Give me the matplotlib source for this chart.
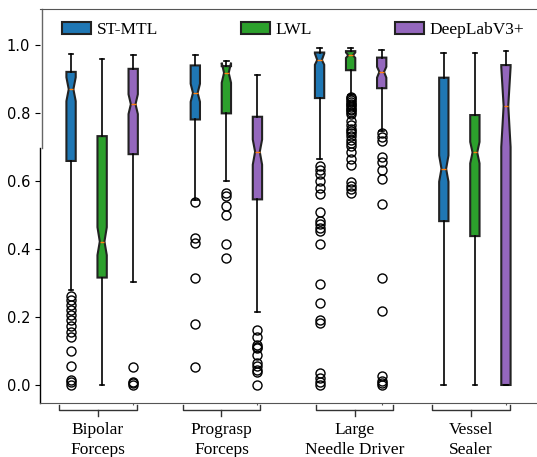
import matplotlib
matplotlib.use("Agg")
import matplotlib.pyplot as plt
import matplotlib.transforms as mtransforms
from matplotlib.patches import Patch
from matplotlib.lines import Line2D

# ---------------- data ----------------
instruments = ["Bipolar\nForceps", "Prograsp\nForceps", "Large\nNeedle Driver", "Vessel\nSealer"]
methods = ["ST-MTL", "LWL", "DeepLabV3+"]
colors = ["#1f77b4", "#2ca02c", "#9467bd"]

# ST-MTL
st_med = [0.870, 0.859, 0.956, 0.636]
st_q1 = [0.659, 0.781, 0.844, 0.482]
st_q3 = [0.921, 0.940, 0.978, 0.904]
st_lo = [0.279, 0.545, 0.664, 0.0]
st_hi = [0.975, 0.972, 0.990, 0.978]
st_cilo = [0.835, 0.833, 0.942, 0.598]
st_cihi = [0.905, 0.886, 0.975, 0.675]
st_fliers = [
    [0.262, 0.250, 0.235, 0.220, 0.205, 0.190, 0.174, 0.156, 0.140, 0.100, 0.056, 0.015, 0.008, 0.0],
    [0.537, 0.431, 0.419, 0.314, 0.180, 0.054],
    [0.644, 0.631, 0.620, 0.600, 0.580, 0.561, 0.509, 0.482, 0.473, 0.462, 0.453, 0.414,
     0.296, 0.242, 0.191, 0.181, 0.034, 0.022, 0.010, 0.0],
    [],
]

# LWL
lwl_med = [0.422, 0.918, 0.970, 0.684]
lwl_q1 = [0.316, 0.799, 0.926, 0.438]
lwl_q3 = [0.732, 0.938, 0.982, 0.794]
lwl_lo = [0.0, 0.600, 0.852, 0.0]
lwl_hi = [0.958, 0.953, 0.990, 0.978]
lwl_cilo = [0.382, 0.889, 0.962, 0.652]
lwl_cihi = [0.464, 0.948, 0.978, 0.715]
lwl_fliers = [
    [],
    [0.566, 0.557, 0.527, 0.499, 0.414, 0.373],
    [0.848, 0.843, 0.838, 0.833, 0.828, 0.823, 0.818, 0.813, 0.808, 0.803, 0.798,
     0.776, 0.764, 0.752, 0.747, 0.740, 0.732, 0.722, 0.713, 0.703, 0.684, 0.665,
     0.646, 0.598, 0.586, 0.576, 0.565],
    [],
]

# DeepLabV3+
dl_med = [0.826, 0.686, 0.921, 0.821]
dl_q1 = [0.679, 0.546, 0.873, 0.0]
dl_q3 = [0.930, 0.789, 0.963, 0.941]
dl_lo = [0.303, 0.215, 0.747, 0.0]
dl_hi = [0.972, 0.911, 0.985, 0.982]
dl_cilo = [0.797, 0.648, 0.904, 0.700]
dl_cihi = [0.855, 0.722, 0.936, 0.935]
dl_fliers = [
    [0.053, 0.010, 0.005, 0.0],
    [0.163, 0.142, 0.118, 0.113, 0.110, 0.087, 0.066, 0.056, 0.045, 0.037, 0.0],
    [0.742, 0.729, 0.718, 0.672, 0.656, 0.632, 0.605, 0.531, 0.316, 0.218, 0.026, 0.012, 0.005, 0.0],
    [],
]

yticks = [0.0, 0.2, 0.4, 0.6, 0.8, 1.0]
label_x = [1.86, 5.84, 10.13, 13.88]

# ---------------- figure ----------------
fig = plt.figure(figsize=(5.37, 4.57), dpi=100)
ax = fig.add_axes([40 / 537, 1 - 403 / 457, 1 - 40 / 537, 394 / 457])

all_stats = [
    (st_med, st_q1, st_q3, st_lo, st_hi, st_cilo, st_cihi, st_fliers),
    (lwl_med, lwl_q1, lwl_q3, lwl_lo, lwl_hi, lwl_cilo, lwl_cihi, lwl_fliers),
    (dl_med, dl_q1, dl_q3, dl_lo, dl_hi, dl_cilo, dl_cihi, dl_fliers),
]

for m, (med, q1, q3, lo, hi, cilo, cihi, fl) in enumerate(all_stats):
    stats = []
    for g in range(len(instruments)):
        stats.append(dict(med=med[g], q1=q1[g], q3=q3[g], whislo=lo[g], whishi=hi[g],
                          cilo=cilo[g], cihi=cihi[g], fliers=fl[g]))
    positions = [4 * g + 1 + m for g in range(len(instruments))]
    ax.bxp(stats, positions=positions, widths=0.3, shownotches=True, patch_artist=True,
           boxprops=dict(facecolor=colors[m], edgecolor="#222222", linewidth=1.5),
           medianprops=dict(color="#ff7f0e", linewidth=1.0),
           whiskerprops=dict(color="black", linewidth=1.2),
           capprops=dict(color="black", linewidth=1.2),
           flierprops=dict(marker="o", markerfacecolor="none", markeredgecolor="black",
                           markersize=6.5, markeredgewidth=1.0))

ax.set_xlim(0, 16)
ax.set_ylim(-0.053, 1.106)
ax.set_yticks(yticks)
ax.set_yticklabels([f"{v:.1f}" for v in yticks], fontsize=10.5)
ax.set_xticks([3, 7, 11, 15])
ax.set_xticklabels([])
ax.tick_params(axis="x", length=1.5, color="#555555")

ax.spines["right"].set_visible(False)
ax.spines["left"].set_visible(False)
ax.spines["top"].set_color("#555555")
ax.spines["bottom"].set_color("#555555")

# broken left spine (as in reference)
split = (403 - 148) / 394
ax.add_line(Line2D([0, 0], [0, split], transform=ax.transAxes, color="black",
                   linewidth=1.0, clip_on=False))
shifted = mtransforms.offset_copy(ax.transAxes, fig=fig, x=1.5, y=0, units="dots")
ax.add_line(Line2D([0, 0], [split, 1], transform=shifted, color="#666666",
                   linewidth=1.0, clip_on=False))

# group brackets and labels
trans = mtransforms.blended_transform_factory(ax.transData, ax.transAxes)
half = 1.25
for xc, lab in zip(label_x, instruments):
    ax.add_line(Line2D([xc - half, xc - half, xc + half, xc + half],
                       [-0.004, -0.018, -0.018, -0.004], transform=trans,
                       color="#333333", linewidth=1.0, clip_on=False))
    ax.add_line(Line2D([xc, xc], [-0.018, -0.032], transform=trans,
                       color="#333333", linewidth=1.0, clip_on=False))
    ax.text(xc, -0.047, lab, transform=trans, ha="center", va="top",
            fontsize=12.5, family="Liberation Serif", linespacing=1.4)

handles = [Patch(facecolor=c, edgecolor="#222222", linewidth=1.5) for c in colors]
leg = ax.legend(handles, methods, ncol=3, frameon=False, loc="upper left",
                bbox_to_anchor=(62 / 537, 1 - 22 / 457), bbox_transform=fig.transFigure,
                borderpad=0, borderaxespad=0, handlelength=1.68, handleheight=0.66,
                handletextpad=0.3, columnspacing=4.8,
                prop=dict(family="Liberation Serif", size=12.5))

fig.savefig("out.png", dpi=100)
